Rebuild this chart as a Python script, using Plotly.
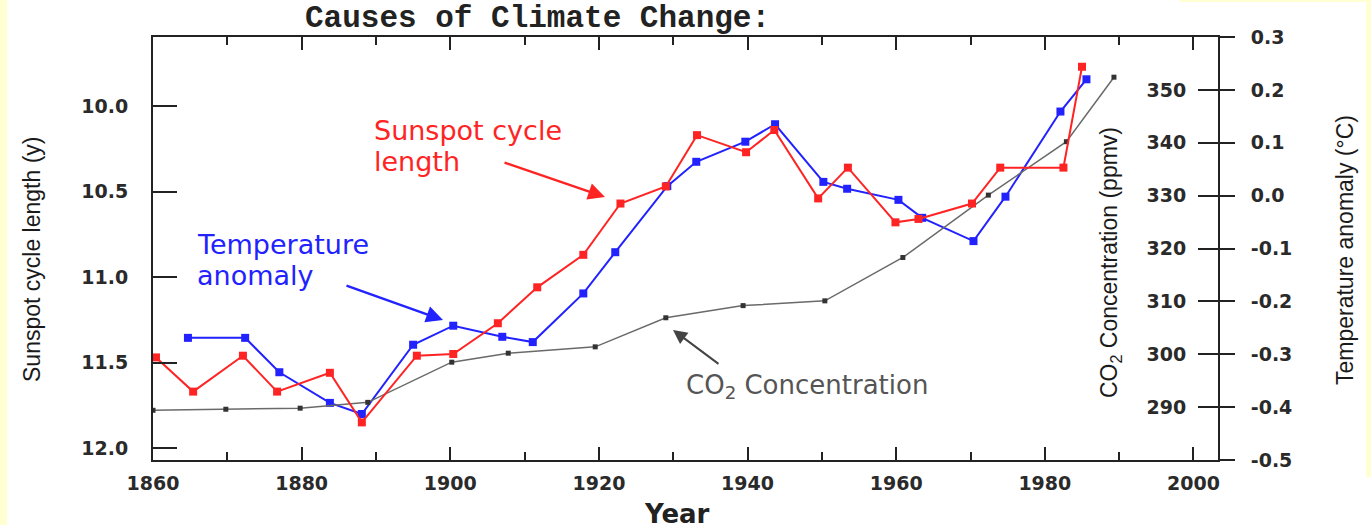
import plotly.graph_objects as go

# ---------------- data ----------------
sun_years = [1860.4, 1865.4, 1872.1, 1876.7, 1883.8, 1888.1, 1895.5, 1900.4, 1906.4, 1911.7,
             1917.9, 1922.9, 1929.0, 1933.2, 1939.8, 1943.6, 1949.5, 1953.5, 1959.9, 1963.0,
             1970.2, 1974.0, 1982.5, 1985.0]
sun_length = [11.47, 11.67, 11.46, 11.67, 11.56, 11.85, 11.46, 11.45, 11.27, 11.06,
              10.87, 10.57, 10.47, 10.17, 10.27, 10.14, 10.54, 10.36, 10.68, 10.66,
              10.57, 10.36, 10.36, 9.77]

temp_years = [1864.7, 1872.4, 1877.0, 1883.8, 1888.1, 1895.0, 1900.4, 1907.0, 1911.1, 1917.9,
              1922.2, 1929.2, 1933.1, 1939.7, 1943.7, 1950.2, 1953.4, 1960.3, 1963.5, 1970.4,
              1974.7, 1982.1, 1985.6]
temp_anom = [-0.269, -0.269, -0.334, -0.392, -0.413, -0.282, -0.246, -0.267, -0.277, -0.185,
             -0.107, 0.018, 0.064, 0.102, 0.135, 0.026, 0.013, -0.008, -0.042, -0.086,
             -0.002, 0.159, 0.220]

co2_years = [1860.0, 1869.8, 1879.8, 1888.9, 1900.2, 1907.8, 1919.5, 1929.0, 1939.4, 1950.4,
             1960.9, 1972.4, 1982.9, 1989.3]
co2_ppmv = [289.4, 289.6, 289.8, 290.9, 298.5, 300.2, 301.4, 306.9, 309.2, 310.1,
            318.3, 330.1, 340.2, 352.4]

year_ticks = [1860, 1880, 1900, 1920, 1940, 1960, 1980, 2000]
year_labels = ["1860", "1880", "1900", "1920", "1940", "1960", "1980", "2000"]
sun_ticks = [10.0, 10.5, 11.0, 11.5, 12.0]
sun_labels = ["10.0", "10.5", "11.0", "11.5", "12.0"]
co2_ticks = [290, 300, 310, 320, 330, 340, 350]
co2_labels = ["290", "300", "310", "320", "330", "340", "350"]
temp_ticks = [-0.5, -0.4, -0.3, -0.2, -0.1, 0.0, 0.1, 0.2, 0.3]
temp_labels = ["-0.5", "-0.4", "-0.3", "-0.2", "-0.1", "0.0", "0.1", "0.2", "0.3"]

title_text = "Causes of Climate Change:"

# ---------------- figure ----------------
RED = "#ff2424"
BLUE = "#2222ff"
GRAY_LINE = "#6a6a6a"
GRAY_MARK = "#333333"
TICKFONT = dict(family="DejaVu Sans", size=19, color="#2a2a2a", weight="bold")
W, H = 1371, 525
L, R, T, B = 153, 153, 37, 65
PW, PH = W - L - R, H - T - B


def px(xp):
    return (xp - L) / PW


def py(yp):
    return (H - B - yp) / PH


fig = go.Figure()

fig.add_trace(go.Scatter(x=temp_years, y=temp_anom, yaxis="y", mode="lines+markers",
                         line=dict(color=BLUE, width=2),
                         marker=dict(symbol="square", size=8, color=BLUE),
                         showlegend=False))
fig.add_trace(go.Scatter(x=co2_years, y=co2_ppmv, yaxis="y2", mode="lines+markers",
                         line=dict(color=GRAY_LINE, width=1.5),
                         marker=dict(symbol="square", size=5, color=GRAY_MARK),
                         showlegend=False))
fig.add_trace(go.Scatter(x=sun_years, y=sun_length, yaxis="y3", mode="lines+markers",
                         line=dict(color=RED, width=2),
                         marker=dict(symbol="square", size=8, color=RED),
                         showlegend=False))

annotations = [
    dict(text=title_text, x=px(537), y=py(19), xanchor="center", yanchor="middle",
         font=dict(family="Liberation Mono", size=31, color="#222", weight="bold")),
    dict(text="Sunspot cycle", x=px(372), y=py(130), xanchor="left", yanchor="middle",
         font=dict(family="DejaVu Sans", size=27, color=RED)),
    dict(text="length", x=px(372), y=py(161), xanchor="left", yanchor="middle",
         font=dict(family="DejaVu Sans", size=27, color=RED)),
    dict(text="Temperature", x=px(195), y=py(244), xanchor="left", yanchor="middle",
         font=dict(family="DejaVu Sans", size=27, color=BLUE)),
    dict(text="anomaly", x=px(195), y=py(275), xanchor="left", yanchor="middle",
         font=dict(family="DejaVu Sans", size=27, color=BLUE)),
    dict(text="CO<sub>2</sub> Concentration", x=px(684), y=py(386), xanchor="left", yanchor="middle",
         font=dict(family="DejaVu Sans", size=26, color="#555")),
    # axis titles
    dict(text="Sunspot cycle length (y)", x=px(32), y=py(260), textangle=-90,
         xanchor="center", yanchor="middle",
         font=dict(family="Liberation Sans", size=23, color="#1a1a1a")),
    dict(text="CO<sub>2</sub> Concentration (ppmv)", x=px(1110), y=py(263), textangle=-90,
         xanchor="center", yanchor="middle",
         font=dict(family="Liberation Sans", size=23, color="#1a1a1a")),
    dict(text="Temperature anomaly (°C)", x=px(1345), y=py(250), textangle=-90,
         xanchor="center", yanchor="middle",
         font=dict(family="Liberation Sans", size=23, color="#1a1a1a")),
    dict(text="Year", x=px(677), y=py(514), xanchor="center", yanchor="middle",
         font=dict(family="DejaVu Sans", size=26, color="#222", weight="bold")),
    # arrows
    dict(text="", x=px(605), y=py(197), ax=-102, ay=-35, showarrow=True,
         arrowhead=2, arrowsize=1.4, arrowwidth=2.4, arrowcolor=RED),
    dict(text="", x=px(443), y=py(320), ax=-98, ay=-35, showarrow=True,
         arrowhead=2, arrowsize=1.4, arrowwidth=2.4, arrowcolor=BLUE),
    dict(text="", x=px(673), y=py(330), ax=47, ay=35, showarrow=True,
         arrowhead=2, arrowsize=1.4, arrowwidth=2.0, arrowcolor="#444"),
]
for a in annotations:
    a.setdefault("showarrow", False)
    a["xref"] = "paper"
    a["yref"] = "paper"

YEL = "#ffffd2"
shapes = [
    dict(type="rect", xref="paper", yref="paper", x0=px(0), x1=px(7), y0=py(525), y1=py(0),
         fillcolor=YEL, line=dict(width=0), layer="below"),
    dict(type="rect", xref="paper", yref="paper", x0=px(1180), x1=px(1371), y0=py(2), y1=py(0),
         fillcolor=YEL, line=dict(width=0), layer="below"),
    dict(type="rect", xref="paper", yref="paper", x0=px(1366), x1=px(1371), y0=py(477), y1=py(0),
         fillcolor=YEL, line=dict(width=0), layer="below"),
]

fig.update_layout(
    width=W, height=H,
    margin=dict(l=L, r=R, t=T, b=B, pad=0),
    paper_bgcolor="white", plot_bgcolor="white",
    showlegend=False,
    annotations=annotations,
    shapes=shapes,
    xaxis=dict(range=[1860, 2003.3], tickvals=year_ticks, ticktext=year_labels,
               ticks="inside", ticklen=13, tickwidth=2, tickcolor="#222",
               minor=dict(dtick=10, tick0=1860, ticks="inside", ticklen=8, tickwidth=2,
                          tickcolor="#222", showgrid=False),
               showline=True, linewidth=2, linecolor="#222", mirror="ticks",
               showgrid=False, zeroline=False, tickfont=TICKFONT, ticklabelstandoff=5),
    yaxis=dict(range=[-0.5, 0.3], side="right", anchor="x",
               tickvals=temp_ticks, ticktext=temp_labels,
               ticks="outside", ticklen=15, tickwidth=1.5, tickcolor="#222",
               showline=True, linewidth=2, linecolor="#222",
               showgrid=False, zeroline=False, tickfont=TICKFONT, ticklabelstandoff=12),
    # CO2 axis: drawn at the right edge of the plot, with labels facing into the plot
    yaxis2=dict(range=[280, 360], overlaying="y", side="left", anchor="free", position=1.0,
                tickvals=co2_ticks, ticktext=co2_labels,
                ticks="outside", ticklen=20, tickwidth=1.5, tickcolor="#222",
                showline=False, showgrid=False, zeroline=False, tickfont=TICKFONT,
                ticklabelstandoff=8),
    yaxis3=dict(range=[12.07, 9.596], overlaying="y", side="left", anchor="x",
                tickvals=sun_ticks, ticktext=sun_labels,
                ticks="inside", ticklen=24, tickwidth=1.5, tickcolor="#222",
                showline=True, linewidth=2, linecolor="#222",
                showgrid=False, zeroline=False, tickfont=TICKFONT, ticklabelstandoff=19),
)

fig.write_html("out.html", config={"displayModeBar": False},
               post_script="document.body.style.margin='0px';document.body.style.overflow='hidden';")
